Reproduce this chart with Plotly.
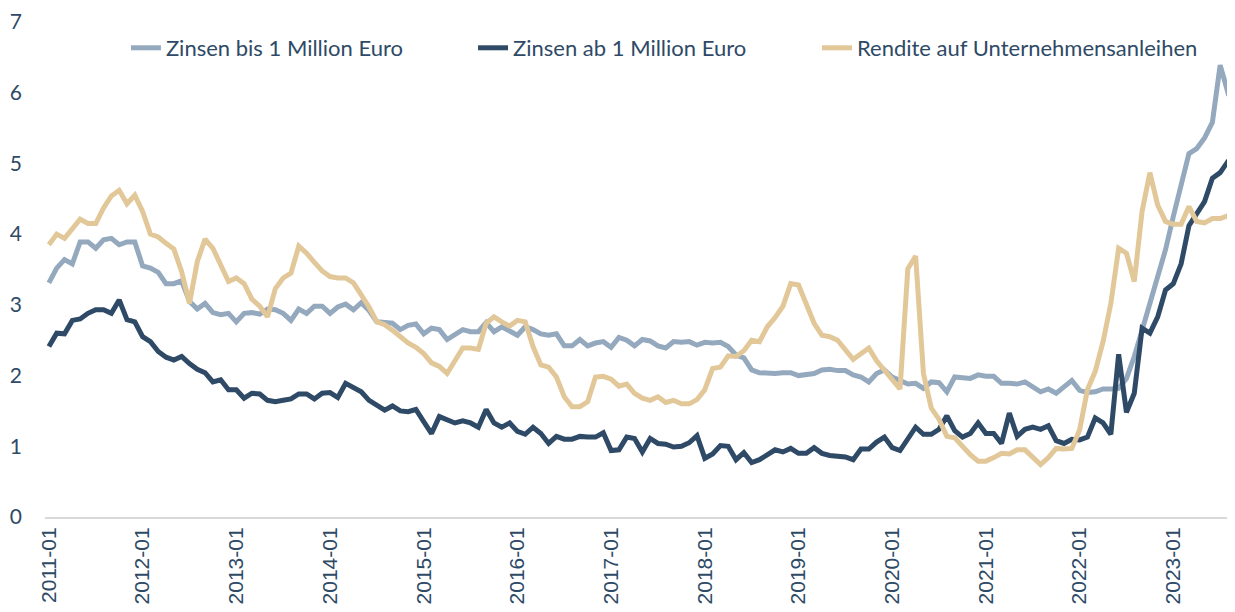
import plotly.graph_objects as go

# --- categories (monthly, 2011-01 .. 2023-09) ---
start_year = 2011
n_months = 153
months = [f"{start_year + k // 12}-{k % 12 + 1:02d}" for k in range(n_months)]
tick_labels = [m for m in months if m.endswith("-01")]

# --- series values ---
zinsen_bis_1mio = [
    3.31, 3.52, 3.64, 3.58, 3.89, 3.89, 3.80, 3.92, 3.94, 3.85, 3.89, 3.89,
    3.55, 3.52, 3.46, 3.30, 3.30, 3.34, 3.05, 2.94, 3.02, 2.89, 2.86, 2.88,
    2.76, 2.88, 2.89, 2.87, 2.94, 2.93, 2.88, 2.78, 2.94, 2.88, 2.98, 2.98,
    2.88, 2.97, 3.01, 2.93, 3.03, 2.92, 2.76, 2.75, 2.74, 2.65, 2.71, 2.73,
    2.59, 2.67, 2.65, 2.51, 2.57, 2.65, 2.62, 2.62, 2.75, 2.62, 2.69, 2.62,
    2.57, 2.69, 2.65, 2.59, 2.57, 2.59, 2.42, 2.42, 2.51, 2.42, 2.46, 2.48,
    2.40, 2.54, 2.50, 2.42, 2.51, 2.49, 2.42, 2.39, 2.48, 2.47, 2.48, 2.43,
    2.47, 2.46, 2.47, 2.41, 2.29, 2.25, 2.08, 2.04, 2.03, 2.03, 2.04, 2.04,
    2.00, 2.02, 2.03, 2.08, 2.09, 2.07, 2.07, 2.01, 1.98, 1.91, 2.03, 2.08,
    1.98, 1.93, 1.88, 1.89, 1.82, 1.91, 1.90, 1.77, 1.98, 1.97, 1.96, 2.01,
    1.99, 1.99, 1.89, 1.89, 1.88, 1.91, 1.83, 1.77, 1.81, 1.75, 1.84, 1.93,
    1.79, 1.76, 1.77, 1.81, 1.81, 1.82, 1.96, 2.27, 2.64, 3.02, 3.40, 3.78,
    4.25, 4.67, 5.14, 5.21, 5.36, 5.58, 6.39, 6.00, 6.06,
]

zinsen_ab_1mio = [
    2.41, 2.60, 2.59, 2.78, 2.80, 2.88, 2.93, 2.93, 2.88, 3.07, 2.79, 2.76,
    2.55, 2.48, 2.34, 2.26, 2.22, 2.27, 2.17, 2.09, 2.04, 1.91, 1.94, 1.80,
    1.80, 1.68, 1.75, 1.74, 1.65, 1.63, 1.65, 1.67, 1.74, 1.74, 1.67, 1.75,
    1.76, 1.69, 1.89, 1.82, 1.77, 1.65, 1.58, 1.51, 1.57, 1.50, 1.49, 1.52,
    1.35, 1.18, 1.42, 1.38, 1.33, 1.36, 1.33, 1.27, 1.52, 1.33, 1.27, 1.33,
    1.21, 1.17, 1.27, 1.18, 1.04, 1.14, 1.10, 1.10, 1.14, 1.13, 1.13, 1.19,
    0.94, 0.95, 1.13, 1.11, 0.92, 1.11, 1.04, 1.03, 0.99, 1.00, 1.05, 1.15,
    0.83, 0.89, 1.01, 1.00, 0.81, 0.91, 0.77, 0.81, 0.89, 0.95, 0.92, 0.97,
    0.90, 0.90, 0.98, 0.90, 0.87, 0.86, 0.85, 0.81, 0.96, 0.96, 1.06, 1.13,
    0.98, 0.94, 1.10, 1.27, 1.17, 1.17, 1.24, 1.43, 1.22, 1.13, 1.18, 1.33,
    1.18, 1.18, 1.04, 1.47, 1.14, 1.24, 1.27, 1.24, 1.29, 1.08, 1.04, 1.10,
    1.09, 1.13, 1.40, 1.33, 1.17, 2.30, 1.48, 1.75, 2.67, 2.60, 2.83, 3.21,
    3.30, 3.58, 4.12, 4.30, 4.46, 4.79, 4.87, 5.03, 5.06,
]

rendite_unternehmensanleihen = [
    3.85, 4.00, 3.94, 4.08, 4.21, 4.15, 4.15, 4.37, 4.54, 4.62, 4.43, 4.55,
    4.32, 4.00, 3.96, 3.87, 3.79, 3.47, 3.02, 3.61, 3.93, 3.80, 3.56, 3.33,
    3.38, 3.30, 3.08, 2.98, 2.83, 3.23, 3.38, 3.45, 3.83, 3.73, 3.60, 3.48,
    3.40, 3.38, 3.38, 3.31, 3.14, 2.97, 2.76, 2.72, 2.64, 2.55, 2.46, 2.40,
    2.31, 2.18, 2.13, 2.03, 2.20, 2.39, 2.39, 2.37, 2.74, 2.83, 2.76, 2.70,
    2.78, 2.76, 2.41, 2.15, 2.12, 1.98, 1.70, 1.56, 1.56, 1.63, 1.98, 1.99,
    1.95, 1.85, 1.88, 1.75, 1.68, 1.65, 1.70, 1.62, 1.65, 1.60, 1.60, 1.66,
    1.80, 2.10, 2.12, 2.28, 2.27, 2.35, 2.50, 2.48, 2.69, 2.82, 2.98, 3.30,
    3.28, 3.02, 2.74, 2.57, 2.55, 2.50, 2.36, 2.23, 2.31, 2.39, 2.21, 2.07,
    1.95, 1.81, 3.51, 3.69, 2.03, 1.54, 1.38, 1.14, 1.12, 1.00, 0.88, 0.79,
    0.79, 0.84, 0.90, 0.89, 0.95, 0.95, 0.84, 0.74, 0.84, 0.97, 0.96, 0.97,
    1.23, 1.80, 2.06, 2.48, 3.02, 3.80, 3.73, 3.33, 4.32, 4.87, 4.41, 4.18,
    4.14, 4.14, 4.39, 4.18, 4.16, 4.22, 4.22, 4.26, 4.42,
]

series_names = [
    "Zinsen bis 1 Million Euro",
    "Zinsen ab 1 Million Euro",
    "Rendite auf Unternehmensanleihen",
]
series_values = [zinsen_bis_1mio, zinsen_ab_1mio, rendite_unternehmensanleihen]
series_colors = ["#94A9BD", "#2E4A66", "#E2C799"]
legend_ids = ["legend", "legend2", "legend3"]
legend_x = [0.068, 0.3597, 0.6487]

TEXT_COLOR = "#2E4A66"
LEGEND_Y = 0.9475

fig = go.Figure()
for name, vals, col, lid in zip(series_names, series_values, series_colors, legend_ids):
    fig.add_trace(
        go.Scatter(
            x=months,
            y=vals,
            mode="lines",
            name=name,
            legend=lid,
            showlegend=True,
            line=dict(color=col, width=5, shape="linear"),
        )
    )

legend_common = dict(
    orientation="h",
    xanchor="left",
    yanchor="middle",
    y=LEGEND_Y,
    bgcolor="rgba(0,0,0,0)",
    font=dict(family="Lato", size=22, color=TEXT_COLOR),
    itemwidth=30,
)

# the page body adds an 8 px offset, so the figure is 8 px smaller each way
fig.update_layout(
    width=1227,
    height=604,
    showlegend=True,
    margin=dict(l=37, r=0, t=14, b=95, autoexpand=False),
    paper_bgcolor="white",
    plot_bgcolor="white",
    font=dict(family="Lato", color=TEXT_COLOR),
    legend=dict(x=legend_x[0], **legend_common),
    legend2=dict(x=legend_x[1], **legend_common),
    legend3=dict(x=legend_x[2], **legend_common),
    xaxis=dict(
        type="category",
        range=[-0.5, 151.9],
        tickmode="array",
        tickvals=tick_labels,
        ticktext=tick_labels,
        tickangle=-90,
        tickfont=dict(family="Liberation Sans", size=21, color=TEXT_COLOR),
        showgrid=False,
        showline=True,
        linecolor="#D9D9D9",
        linewidth=2,
        ticks="",
        ticklabelstandoff=0,
        zeroline=False,
        automargin=False,
    ),
    yaxis=dict(
        range=[0, 7],
        tickvals=[0, 1, 2, 3, 4, 5, 6, 7],
        tickfont=dict(family="Lato", size=21, color=TEXT_COLOR),
        showgrid=False,
        showline=False,
        zeroline=False,
        ticks="",
        ticklabelstandoff=22,
        automargin=False,
    ),
)

fig.write_html("out.html")
